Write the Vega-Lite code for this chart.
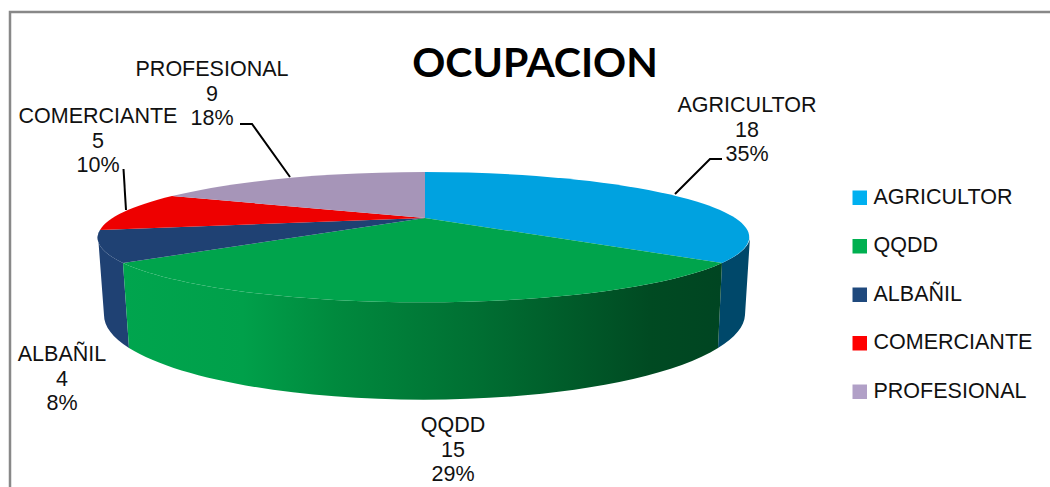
{
"$schema":"https://vega.github.io/schema/vega-lite/v6.json",
"width":1050,"height":487,"autosize":"none","padding":0,"background":"white",
"config":{"view":{"stroke":null}},
"title":{"text":"OCUPACION","frame":"group","anchor":"middle","dx":10,"offset":-118,"baseline":"alphabetic","font":"Lato","fontSize":41,"fontWeight":"bold","color":"#000000"},
"data":{"values":[
{"ocupacion":"AGRICULTOR","cantidad":18,"porcentaje":"35%"},
{"ocupacion":"QQDD","cantidad":15,"porcentaje":"29%"},
{"ocupacion":"ALBAÑIL","cantidad":4,"porcentaje":"8%"},
{"ocupacion":"COMERCIANTE","cantidad":5,"porcentaje":"10%"},
{"ocupacion":"PROFESIONAL","cantidad":9,"porcentaje":"18%"}
]},
"resolve":{"scale":{"color":"independent","shape":"independent"}},
"layer":[
{"data":{"values":[{"elemento":"marco"}]},
 "mark":{"type":"point","filled":false,"opacity":1,"size":4,"stroke":"#888888","strokeWidth":2.5,"shape":"M-515 243.5 L-515 -231.5 L525 -231.5"},
 "encoding":{}},
{"mark":{"type":"point","filled":true,"opacity":1,"size":1},
 "encoding":{
  "color":{"field":"ocupacion","type":"nominal",
   "scale":{"domain":["AGRICULTOR","QQDD","ALBAÑIL","COMERCIANTE","PROFESIONAL"],"range":["#00b0f0","#00b050","#1f497d","#ff0000","#b1a0c7"]},
   "legend":{"title":null,"orient":"none","legendX":849,"legendY":187,"symbolType":"square","symbolSize":210,"symbolOpacity":1,"symbolStrokeWidth":0,"labelFont":"Liberation Sans","labelFontSize":21.5,"labelColor":"#111111","labelOffset":3,"rowPadding":25.5,"labelLimit":300}}
 }},
{"transform":[{"filter":"datum.ocupacion === 'AGRICULTOR'"}],
 "mark":{"type":"point","filled":true,"opacity":1,"size":4,"fill":"#00486a","shape":"M197 19.5 A326 65 0 0 0 225 -6.5 L220 71.5 A320 85 0 0 1 193 104.5 Z"},
 "encoding":{}},
{"transform":[{"filter":"datum.ocupacion === 'ALBAÑIL'"}],
 "mark":{"type":"point","filled":true,"opacity":1,"size":4,"fill":"#1f4173","shape":"M-402 19.5 A326 65 0 0 1 -425 -13.5 L-427 -8 L-421 71.5 A320 85 0 0 0 -396 104.5 Z"},
 "encoding":{}},
{"transform":[{"filter":"datum.ocupacion === 'QQDD'"}],
 "mark":{"type":"point","filled":true,"opacity":1,"size":4,
  "fill":{"gradient":"linear","x1":0,"x2":1,"y1":0,"y2":0,"stops":[{"offset":0,"color":"#00a54e"},{"offset":0.2,"color":"#00a04a"},{"offset":0.35,"color":"#008a3e"},{"offset":0.6,"color":"#006e32"},{"offset":0.88,"color":"#004a22"},{"offset":1,"color":"#004522"}]},
  "shape":"M-402 19.5 A326 65 0 0 0 197 19.5 L193 104.5 A320 85 0 0 1 -396 104.5 Z"},
 "encoding":{}},
{"mark":{"type":"point","filled":true,"opacity":1,"size":4},
 "encoding":{
  "color":{"field":"ocupacion","type":"nominal","legend":null,
   "scale":{"domain":["AGRICULTOR","QQDD","ALBAÑIL","COMERCIANTE","PROFESIONAL"],"range":["#00a2e0","#00a44c","#1f4173","#ee0000","#a695b8"]}},
  "shape":{"field":"ocupacion","type":"nominal","legend":null,
   "scale":{"domain":["AGRICULTOR","QQDD","ALBAÑIL","COMERCIANTE","PROFESIONAL"],
    "range":["M-100 -25.5 L-100 -71.5 A326 65 0 0 1 197 19.5 Z","M-100 -25.5 L197 19.5 A326 65 0 0 1 -402 19.5 Z","M-100 -25.5 L-402 19.5 A326 65 0 0 1 -425 -13.5 Z","M-100 -25.5 L-425 -13.5 A326 65 0 0 1 -353 -47.5 Z","M-100 -25.5 L-353 -47.5 A326 65 0 0 1 -100 -71.5 Z"]}}
 }},
{"mark":{"type":"point","filled":false,"opacity":1,"size":4,"stroke":"#000000","strokeWidth":2},
 "encoding":{
  "shape":{"field":"ocupacion","type":"nominal","legend":null,
   "scale":{"domain":["AGRICULTOR","QQDD","ALBAÑIL","COMERCIANTE","PROFESIONAL"],
    "range":["M197 -84.5 L185 -84.5 L150 -49.5","M0 0","M0 0","M-401.5 -74.5 L-399 -33.5","M-285 -119.5 L-273 -119.5 L-235 -66.5"]}}
 }},
{"transform":[{"calculate":"datum.ocupacion + '\\n' + datum.cantidad + '\\n' + datum.porcentaje","as":"etiqueta"}],
 "mark":{"type":"text","font":"Liberation Sans","fontSize":21.5,"lineBreak":"\n","lineHeight":24.5,"align":"center","baseline":"middle","color":"#111111"},
 "encoding":{
  "text":{"field":"etiqueta","type":"nominal"},
  "x":{"field":"cantidad","type":"quantitative","axis":null,"scale":{"domain":[4,5,9,15,18],"range":[62,98,212,453,747],"nice":false,"zero":false}},
  "y":{"field":"cantidad","type":"quantitative","axis":null,"scale":{"domain":[4,5,9,15,18],"range":[355,117,70,426,106],"nice":false,"zero":false}}
 }}
]
}
